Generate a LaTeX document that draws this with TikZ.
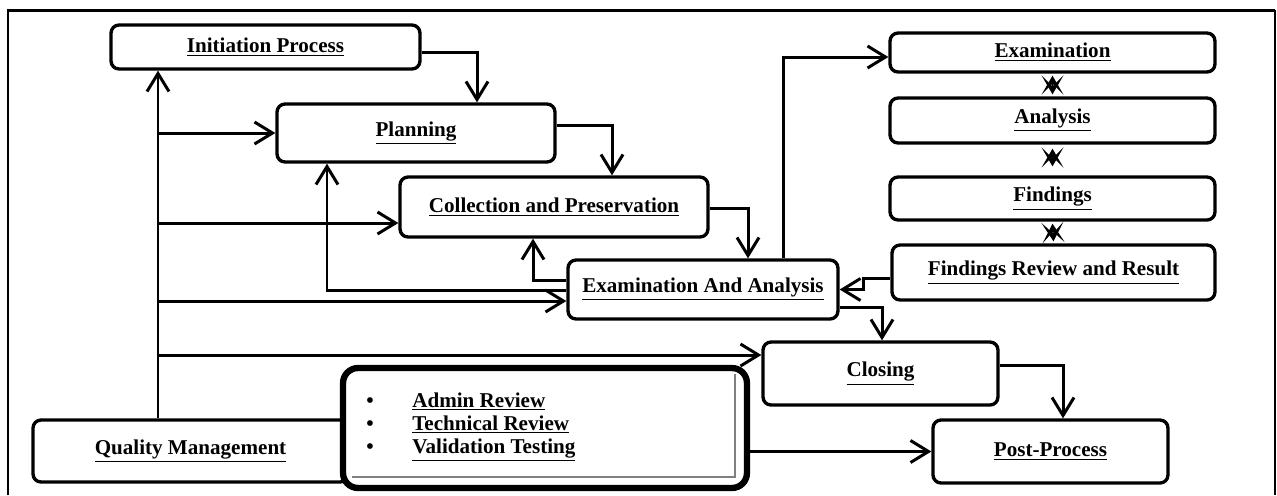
\documentclass[tikz,border=0pt]{standalone}
\usepackage{fontspec}
\setmainfont{Liberation Serif}
\usetikzlibrary{arrows.meta,calc}

\tikzset{
  box/.style={draw, line width=1.9pt, rounded corners=0.16cm, fill=white,
    font=\fontsize{12}{14}\selectfont\bfseries, inner sep=0pt},
  arr/.style={line width=1.7pt, -{Straight Barb[length=0.36cm,width=0.44cm]}},
  dbl/.style={line width=0.8pt, {Stealth[length=0.38cm,width=0.44cm,inset=0.22cm]}-{Stealth[length=0.38cm,width=0.44cm,inset=0.22cm]}},
  item/.style={anchor=base west, inner sep=0pt, font=\fontsize{12}{14}\selectfont\bfseries}
}

\begin{document}
\begin{tikzpicture}[x=0.02cm, y=-0.02cm]

\useasboundingbox (0,0) rectangle (1277,495);

% frame
\draw[line width=1.7pt] (8,495) -- (8,10) -- (1275,10);
\draw[line width=0.8pt] (1275,10) -- (1275,495);

\node(init)[box, minimum width=6.18cm, minimum height=0.88cm] at (265.5,47) {\underline{Initiation Process}};
\node(plan)[box, minimum width=5.56cm, minimum height=1.16cm] at (416,133) {\underline{Planning}};
\node(coll)[box, minimum width=6.16cm, minimum height=1.2cm] at (554,207) {\underline{Collection and Preservation}};
\node(ea)[box, minimum width=5.4cm, minimum height=1.18cm] at (703,289.5) {\underline{Examination And Analysis}};
\node(clos)[box, minimum width=4.7cm, minimum height=1.26cm] at (880.5,373.5) {\underline{Closing}};
\node(post)[box, minimum width=4.7cm, minimum height=1.26cm] at (1050.5,451.5) {\underline{Post-Process}};

\node(exam)[box, minimum width=6.5cm, minimum height=0.78cm] at (1052.5,52.5) {\underline{Examination}};
\node(anal)[box, minimum width=6.5cm, minimum height=0.9cm] at (1052.5,120.5) {\underline{Analysis}};
\node(find)[box, minimum width=6.5cm, minimum height=0.86cm] at (1052.5,198.5) {\underline{Findings}};
\node(rev)[box, minimum width=6.46cm, minimum height=1.1cm] at (1053.5,272.5) {\underline{Findings Review and Result}};

\node(qm)[box, minimum width=6.3cm, minimum height=1.24cm] at (190.5,451) {\underline{Quality Management}};
\node(qc)[box, line width=3.6pt, rounded corners=0.3cm, minimum width=8.08cm, minimum height=2.4cm] at (545,428) {};
\draw[gray, line width=0.6pt] (735,374) -- (735,477) -- (352,477);

\node(adm)[item] at (366,407) {\makebox[0.92cm][l]{\textbullet}\underline{Admin Review}};
\node(tec)[item] at (366,430) {\makebox[0.92cm][l]{\textbullet}\underline{Technical Review}};
\node(val)[item] at (366,453) {\makebox[0.92cm][l]{\textbullet}\underline{Validation Testing}};

% quality management feeds every step
\coordinate(tr) at (158,0);
\draw[arr] (qm.north -| tr) -- (init.south -| tr);
\draw[arr] (tr |- plan.west) -- (plan.west);
\draw[arr] ($(tr |- coll.west)+(0,16)$) -- ($(coll.west)+(0,16)$);
\draw[arr] ($(tr |- ea.west)+(0,11.5)$) -- ($(ea.west)+(0,11.5)$);
\draw[arr] ($(tr |- clos.west)+(0,-18.5)$) -- ($(clos.west)+(0,-18.5)$);

% main flow
\draw[arr] ($(init.east)+(0,5)$) -| ($(plan.north)+(61,0)$);
\draw[arr] ($(plan.east)+(0,-8)$) -| ($(coll.north)+(58,0)$);
\draw[arr] ($(coll.east)+(0,1)$) -| ($(ea.north)+(45,0)$);
\draw[arr] ($(ea.north)+(80,0)$) |- ($(exam.west)+(0,4.5)$);
\draw[arr] ($(rev.west)+(0,5.5)$) -- ++(-27,0) |- (ea.east);
\draw[arr] ($(ea.east)+(0,17.5)$) -| ($(clos.north)+(1.5,0)$);
\draw[arr] ($(clos.east)+(0,-8.5)$) -| ($(post.north)+(12.5,0)$);
\draw[arr] (qc.east |- post.west) -- (post.west);

% back to earlier steps
\draw[arr] ($(ea.west)+(0,-9.5)$) -| ($(coll.south)+(-21,0)$);
\draw[arr] ($(ea.west)+(0,0.5)$) -| ($(plan.south)+(-89,0)$);

\draw[dbl] ($(exam.south)+(0,2)$) -- ($(anal.north)+(0,-2)$);
\draw[dbl] ($(anal.south)+(0,4)$) -- ($(find.north)+(0,-9)$);
\draw[dbl] ($(find.south)+(0,2)$) -- ($(rev.north)+(0,-2)$);

\end{tikzpicture}
\end{document}
